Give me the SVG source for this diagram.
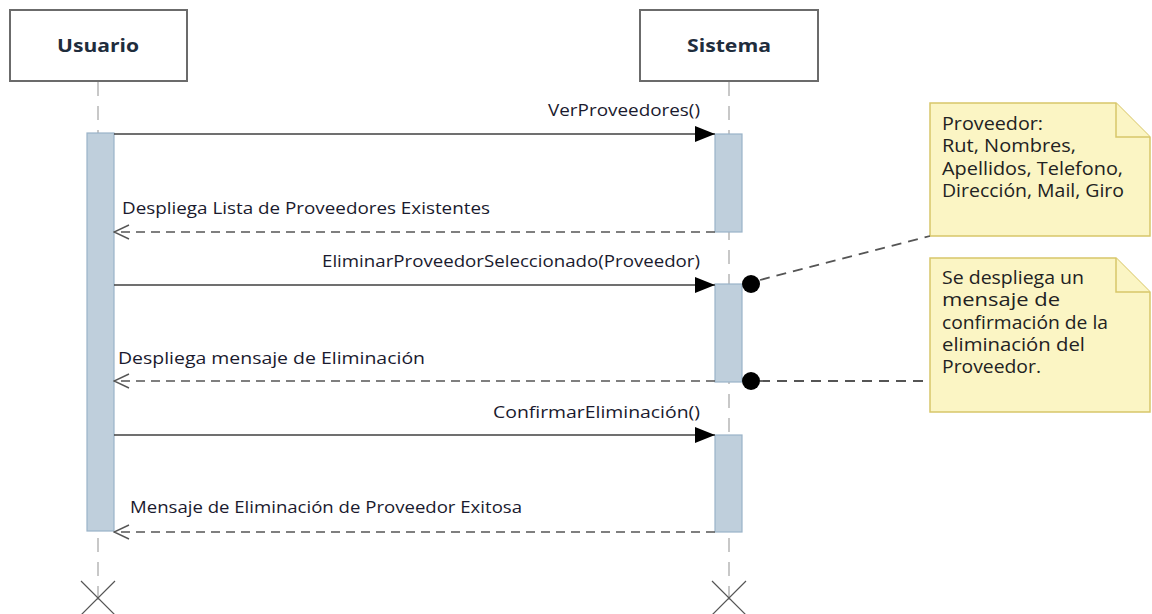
<svg xmlns="http://www.w3.org/2000/svg" width="1152" height="614" viewBox="0 0 1152 614">
<defs>
<style>
.head{fill:#fff;stroke:#6b6b6b;stroke-width:2}
.htxt{font-family:"Open Sans","Noto Sans",sans-serif;font-weight:bold;font-size:18px;fill:#1f2d3d;text-anchor:middle}
.life{stroke:#c8c8c8;stroke-width:2;stroke-dasharray:14,10;fill:none}
.act{fill:#bfcfdc;stroke:#9ab3c8;stroke-width:1.2}
.msg{stroke:#404040;stroke-width:1.6;fill:none}
.ret{stroke:#555;stroke-width:1.6;stroke-dasharray:9,6;fill:none}
.lbl{font-family:"Open Sans","Noto Sans",sans-serif;font-size:17px;fill:#1a1a2e}
.note{fill:#fbf5c4;stroke:#d8c66a;stroke-width:1.5}
.ntxt{font-family:"Open Sans","Noto Sans",sans-serif;font-size:18px;fill:#222}
.nlink{stroke:#555;stroke-width:1.8;stroke-dasharray:10,7;fill:none}
.x{stroke:#555;stroke-width:1.2}
</style>
<marker id="fill" markerWidth="20" markerHeight="16" refX="20" refY="8" orient="auto" markerUnits="userSpaceOnUse">
<path d="M0,0 L20,8 L0,16 Z" fill="#000"/>
</marker>
<marker id="open" markerWidth="17" markerHeight="16" refX="16" refY="8" orient="auto" markerUnits="userSpaceOnUse">
<path d="M1,1 L16,8 L1,15" fill="none" stroke="#555" stroke-width="1.4"/>
</marker>
</defs>
<rect width="1152" height="614" fill="#fff"/>

<g id="lifelines">
<line class="life" x1="98" y1="82" x2="98" y2="600"/>
<line class="life" x1="729" y1="82" x2="729" y2="600"/>
</g>

<g id="usuario">
<rect class="head" x="10" y="10" width="177" height="71"/>
<text class="htxt" x="98" y="52" textLength="82" lengthAdjust="spacingAndGlyphs">Usuario</text>
<rect class="act" x="87" y="133" width="27" height="398"/>
<path class="x" d="M81,581 L115,615 M115,581 L81,615"/>
</g>

<g id="sistema">
<rect class="head" x="640" y="10" width="178" height="71"/>
<text class="htxt" x="729" y="52" textLength="84" lengthAdjust="spacingAndGlyphs">Sistema</text>
<rect class="act" x="715" y="134" width="27" height="98"/>
<rect class="act" x="715" y="284" width="27" height="98"/>
<rect class="act" x="715" y="435" width="27" height="97"/>
<path class="x" d="M712,581 L746,615 M746,581 L712,615"/>
</g>

<g id="note1">
<path class="note" d="M930,103 L1116,103 L1150,137 L1150,236 L930,236 Z"/>
<path class="note" d="M1116,103 L1116,137 L1150,137" fill="none"/>
<text class="ntxt" x="942" y="130" textLength="101" lengthAdjust="spacingAndGlyphs">Proveedor:</text>
<text class="ntxt" x="942" y="152" textLength="134" lengthAdjust="spacingAndGlyphs">Rut, Nombres,</text>
<text class="ntxt" x="942" y="175" textLength="181" lengthAdjust="spacingAndGlyphs">Apellidos, Telefono,</text>
<text class="ntxt" x="942" y="197" textLength="182" lengthAdjust="spacingAndGlyphs">Dirección, Mail, Giro</text>
</g>

<g id="note2">
<path class="note" d="M930,258 L1116,258 L1150,292 L1150,412 L930,412 Z"/>
<path class="note" d="M1116,258 L1116,292 L1150,292" fill="none"/>
<text class="ntxt" x="942" y="284" textLength="142" lengthAdjust="spacingAndGlyphs">Se despliega un</text>
<text class="ntxt" x="942" y="306" textLength="118" lengthAdjust="spacingAndGlyphs">mensaje de</text>
<text class="ntxt" x="942" y="329" textLength="166" lengthAdjust="spacingAndGlyphs">confirmación de la</text>
<text class="ntxt" x="942" y="351" textLength="143" lengthAdjust="spacingAndGlyphs">eliminación del</text>
<text class="ntxt" x="942" y="373" textLength="99" lengthAdjust="spacingAndGlyphs">Proveedor.</text>
</g>

<g id="connectors">
<line class="msg" x1="114" y1="134" x2="715" y2="134" marker-end="url(#fill)"/>
<line class="ret" x1="715" y1="232" x2="114" y2="232" marker-end="url(#open)"/>
<line class="msg" x1="114" y1="285" x2="715" y2="285" marker-end="url(#fill)"/>
<line class="ret" x1="715" y1="381" x2="114" y2="381" marker-end="url(#open)"/>
<line class="msg" x1="114" y1="435" x2="715" y2="435" marker-end="url(#fill)"/>
<line class="ret" x1="715" y1="532" x2="114" y2="532" marker-end="url(#open)"/>
<line class="nlink" x1="760" y1="280" x2="930" y2="236"/>
<line class="nlink" x1="760" y1="381" x2="930" y2="381"/>
<circle cx="751" cy="284" r="9" fill="#000"/>
<circle cx="751" cy="381" r="9" fill="#000"/>
</g>

<g id="labels">
<text class="lbl" x="548" y="116" textLength="152" lengthAdjust="spacingAndGlyphs">VerProveedores()</text>
<text class="lbl" x="122" y="214" textLength="368" lengthAdjust="spacingAndGlyphs">Despliega Lista de Proveedores Existentes</text>
<text class="lbl" x="322" y="267" textLength="378" lengthAdjust="spacingAndGlyphs">EliminarProveedorSeleccionado(Proveedor)</text>
<text class="lbl" x="118" y="364" textLength="307" lengthAdjust="spacingAndGlyphs">Despliega mensaje de Eliminación</text>
<text class="lbl" x="493" y="418" textLength="207" lengthAdjust="spacingAndGlyphs">ConfirmarEliminación()</text>
<text class="lbl" x="130" y="513" textLength="392" lengthAdjust="spacingAndGlyphs">Mensaje de Eliminación de Proveedor Exitosa</text>
</g>
</svg>
